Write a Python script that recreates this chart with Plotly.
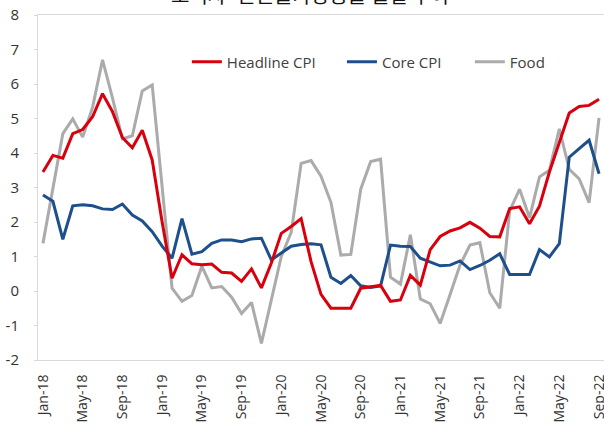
import pandas as pd
import plotly.graph_objects as go

# Monthly year-on-year inflation, Jan-2018 .. Sep-2022
months = pd.date_range("2018-01-01", periods=57, freq="MS").strftime("%b-%y").tolist()

headline_cpi = [3.45, 3.93, 3.85, 4.56, 4.68, 5.05, 5.72, 5.20, 4.45, 4.15, 4.66, 3.80,
                2.00, 0.37, 1.05, 0.79, 0.76, 0.78, 0.54, 0.52, 0.28, 0.64, 0.09, 0.81,
                1.67, 1.87, 2.10, 0.85, -0.10, -0.50, -0.50, -0.50, 0.08, 0.12, 0.16, -0.30,
                -0.26, 0.45, 0.17, 1.20, 1.58, 1.74, 1.83, 1.99, 1.82, 1.58, 1.57, 2.39,
                2.44, 1.95, 2.46, 3.45, 4.33, 5.16, 5.35, 5.38, 5.56]

core_cpi = [2.78, 2.60, 1.50, 2.47, 2.50, 2.47, 2.38, 2.36, 2.52, 2.20, 2.03, 1.72,
            1.30, 0.95, 2.10, 1.07, 1.14, 1.38, 1.48, 1.48, 1.43, 1.51, 1.53, 0.90,
            1.10, 1.30, 1.35, 1.37, 1.34, 0.40, 0.22, 0.45, 0.15, 0.10, 0.15, 1.33,
            1.30, 1.29, 0.95, 0.83, 0.73, 0.75, 0.87, 0.62, 0.74, 0.89, 1.08, 0.48,
            0.48, 0.48, 1.20, 0.99, 1.37, 3.88, 4.13, 4.37, 3.40]

food = [1.38, 3.00, 4.56, 4.99, 4.46, 5.33, 6.70, 5.60, 4.41, 4.50, 5.80, 5.97,
        3.10, 0.08, -0.30, -0.13, 0.72, 0.09, 0.13, -0.18, -0.65, -0.33, -1.52, -0.25,
        1.00, 1.70, 3.70, 3.78, 3.33, 2.57, 1.04, 1.06, 2.95, 3.75, 3.82, 0.40,
        0.20, 1.63, -0.23, -0.37, -0.94, -0.10, 0.75, 1.33, 1.40, -0.05, -0.50, 2.32,
        2.95, 2.12, 3.31, 3.50, 4.70, 3.53, 3.25, 2.56, 5.02]

y_ticks = list(range(-2, 9))
y_tick_text = [str(v) for v in y_ticks]  # plain hyphen for negatives

idx = list(range(len(months)))
label_step = 4

series = [
    ("Headline CPI", headline_cpi, "#D9000D", "legend", 0.263),
    ("Core CPI", core_cpi, "#1D4F8C", "legend2", 0.537),
    ("Food", food, "#ABABAB", "legend3", 0.763),
]

fig = go.Figure()
# grey first so the CPI lines sit on top
for name, vals, color, leg, _ in reversed(series):
    fig.add_trace(go.Scatter(
        x=idx, y=vals, name=name, mode="lines",
        line=dict(color=color, width=3),
        legend=leg, hoverinfo="skip",
    ))

font_family = "Open Sans, DejaVu Sans, sans-serif"
axis_grey = "#D9D9D9"

legend_common = dict(
    orientation="h", xref="paper", yref="paper",
    y=0.864, yanchor="middle", xanchor="left",
    bgcolor="rgba(0,0,0,0)", borderwidth=0,
    font=dict(family=font_family, size=15, color="#404040"),
    itemwidth=30, traceorder="normal",
)
legend_layout = {}
for name, vals, color, leg, lx in series:
    legend_layout[leg] = dict(legend_common, x=lx)

fig.update_layout(
    width=604, height=424,
    margin=dict(l=38, r=0, t=15, b=64, autoexpand=False),
    paper_bgcolor="white", plot_bgcolor="white",
    showlegend=True,
    font=dict(family=font_family, color="#333333"),
    **legend_layout,
    xaxis=dict(
        range=[-0.5, len(months) - 0.5],
        tickmode="array",
        tickvals=idx[::label_step],
        ticktext=months[::label_step],
        tickangle=-90,
        tickfont=dict(size=14, color="#333333"),
        ticks="", ticklabelstandoff=8,
        ticklabeloverflow="allow", automargin=False,
        showgrid=False, zeroline=False,
        showline=True, linecolor=axis_grey, linewidth=1, mirror=True,
    ),
    # category axis drawn through zero, with tick marks between month groups
    xaxis2=dict(
        overlaying="x", matches="x", anchor="free", position=0.2,
        tickmode="array",
        tickvals=[i - 0.5 for i in idx[::label_step]],
        ticks="outside", ticklen=4, tickcolor=axis_grey, tickwidth=1,
        showticklabels=False, showgrid=False, zeroline=False,
        showline=True, linecolor=axis_grey, linewidth=1.5, automargin=False,
    ),
    yaxis=dict(
        range=[-2, 8],
        tickmode="array", tickvals=y_ticks, ticktext=y_tick_text,
        tickfont=dict(size=15, color="#333333"),
        ticks="outside", ticklen=3, tickcolor=axis_grey,
        ticklabelstandoff=12, automargin=False,
        showgrid=False, zeroline=False,
        showline=True, linecolor=axis_grey, linewidth=1,
    ),
    annotations=[dict(
        text="소비자·근원물가상승률 월별 추이",
        xref="paper", yref="paper", x=0.48, y=1.058,
        xanchor="center", yanchor="middle", showarrow=False,
        font=dict(family="Noto Sans CJK KR", size=20, color="#111111"),
    )],
)

fig.write_html("out.html")
